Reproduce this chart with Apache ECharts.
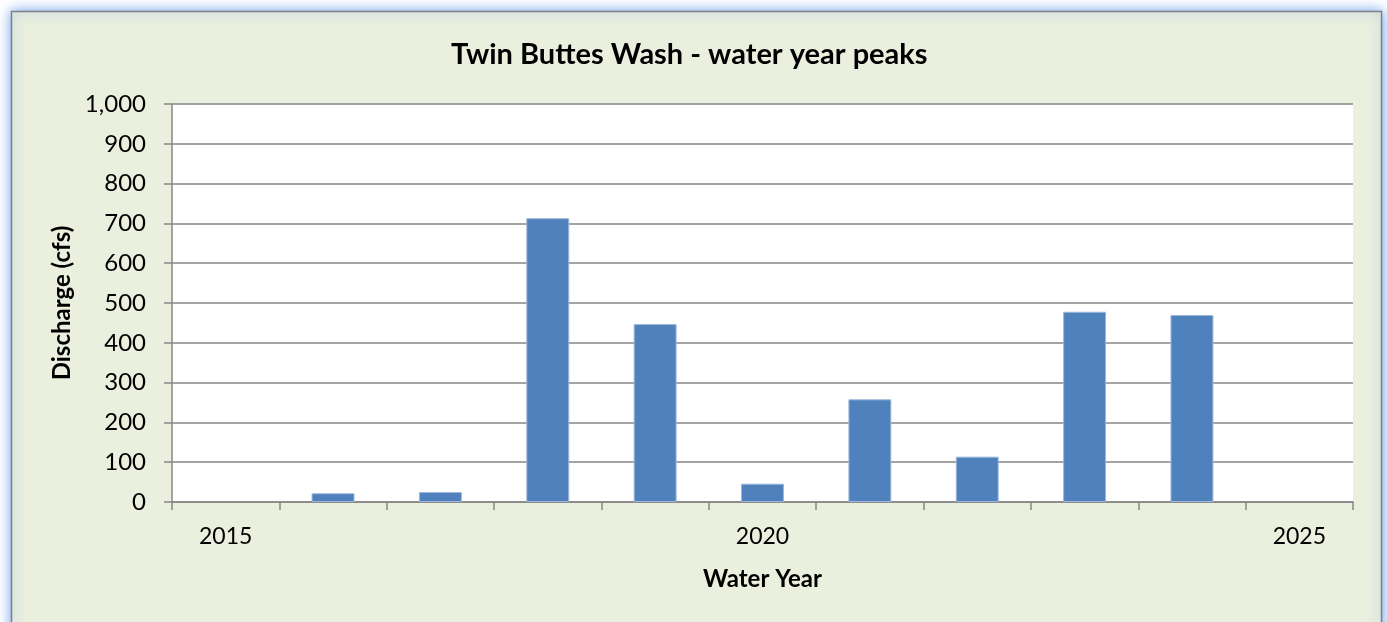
<!DOCTYPE html>
<html>
<head>
<meta charset="utf-8">
<script src="https://cdn.jsdelivr.net/npm/echarts@6/dist/echarts.min.js"></script>
<style>
html,body{margin:0;padding:0;background:#ffffff;}
#chart{width:1387px;height:622px;}
</style>
</head>
<body>
<div id="chart"></div>
<script>
const years = ['2015','2016','2017','2018','2019','2020','2021','2022','2023','2024','2025'];
const peaks = [null, 22, 25, 713, 447, 46, 258, 114, 478, 470, null];
const yTicks = {min: 0, max: 1000, interval: 100};
const titleText = 'Twin Buttes Wash - water year peaks';
const xName = 'Water Year';
const yName = 'Discharge (cfs)';

const font = 'Lato, "Open Sans", sans-serif';
const chart = echarts.init(document.getElementById('chart'), null, {renderer: 'canvas'});
chart.setOption({
  animation: false,
  backgroundColor: '#ffffff',
  graphic: [{
    type: 'rect', z: -10, silent: true,
    shape: {x: 11.5, y: 11.5, width: 1370, height: 720},
    style: {fill: '#EBF0DE', stroke: '#808080', lineWidth: 1.5,
            shadowBlur: 12, shadowColor: 'rgba(90,145,235,0.9)'}
  }],
  title: {
    text: titleText, left: 446, top: 35,
    textStyle: {fontFamily: font, fontSize: 29, fontWeight: 'bold', color: '#000'}
  },
  grid: {left: 172, right: 34, top: 104, bottom: 120, show: true,
         backgroundColor: '#ffffff', borderWidth: 0},
  xAxis: {
    type: 'category', data: years, boundaryGap: true,
    name: xName, nameLocation: 'middle', nameGap: 65,
    nameTextStyle: {fontFamily: font, fontSize: 24, fontWeight: 'bold', color: '#000'},
    axisLine: {lineStyle: {color: '#868686', width: 1.5}},
    axisTick: {show: true, interval: 0, length: 8, lineStyle: {color: '#868686', width: 1.5}},
    axisLabel: {interval: 4, margin: 23, fontFamily: font, fontSize: 23, color: '#000'},
    splitLine: {show: false}
  },
  yAxis: {
    type: 'value', min: yTicks.min, max: yTicks.max, interval: yTicks.interval,
    name: yName, nameLocation: 'middle', nameGap: 98, nameRotate: 90,
    nameTextStyle: {fontFamily: font, fontSize: 24, fontWeight: 'bold', color: '#000'},
    axisLine: {show: true, lineStyle: {color: '#868686', width: 1.5}},
    axisTick: {show: true, length: 8, lineStyle: {color: '#868686', width: 1.5}},
    axisLabel: {margin: 26, fontFamily: font, fontSize: 24, color: '#000',
      formatter: v => v.toLocaleString('en-US')},
    splitLine: {show: true, lineStyle: {color: '#868686', width: 1.5}}
  },
  series: [{
    type: 'bar', data: peaks, barWidth: '40%',
    itemStyle: {color: '#4F81BD', borderColor: '#9DB8DC', borderWidth: 1}
  }]
});
</script>
</body>
</html>
